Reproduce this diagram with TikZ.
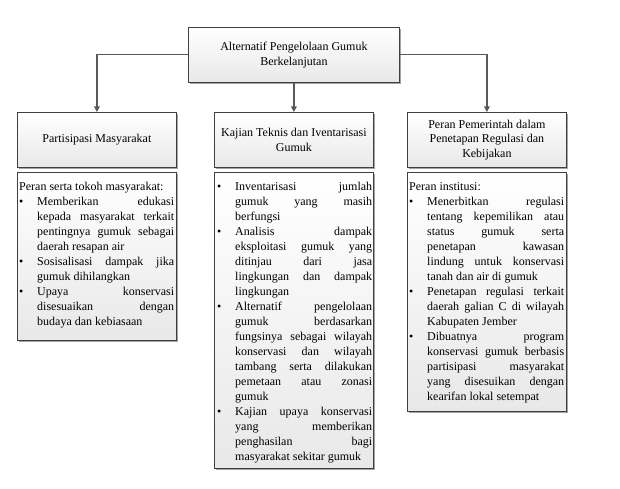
\documentclass[tikz,border=0pt]{standalone}
\usepackage{fontspec}
\setmainfont{Liberation Serif}
\newfontfamily\tnr{Liberation Serif}
\usetikzlibrary{shadows,arrows.meta}
\definecolor{boxc}{HTML}{404040}
\definecolor{linec}{HTML}{595959}
\newlength\bw
\setlength\bw{155pt}
\newcommand\zPL[1]{\hbox to \bw{#1\hfil}}
\newcommand\zBJ[1]{\hbox to \bw{\hbox to 18pt{\textbullet\hfil}#1}}
\newcommand\zBN[1]{\hbox to \bw{\hbox to 18pt{\textbullet\hfil}#1\hfil}}
\newcommand\zIJ[1]{\hbox to \bw{\hskip18pt #1}}
\newcommand\zIN[1]{\hbox to \bw{\hskip18pt #1\hfil}}
\begin{document}
\begin{tikzpicture}[x=1pt,y=-1pt,
  box/.style={draw=boxc, line width=0.8pt, top color=white, bottom color=gray!18,
    drop shadow={shadow xshift=1.2pt, shadow yshift=-1.2pt, fill=black!60, opacity=0.6},
    inner sep=0pt, anchor=north west, minimum width=159pt},
  head/.style={box, minimum height=55pt, align=center, font=\tnr\fontsize{12}{14.5}\selectfont},
  txt/.style={inner sep=0pt, anchor=base west, font=\tnr\fontsize{12}{15}\selectfont},
  conn/.style={draw=linec, line width=1.2pt, -{Triangle[length=5.5pt,width=5.5pt]}}]
\useasboundingbox[fill=white] (0,0) rectangle (620,489);
\node[head, minimum width=211pt] (top) at (188,27) {Alternatif Pengelolaan Gumuk\\Berkelanjutan};
\node[head] (h1) at (17,112) {Partisipasi Masyarakat};
\node[head] (h2) at (214,112) {Kajian Teknis dan Iventarisasi\\Gumuk};
\node[head] (h3) at (407,112) {Peran Pemerintah dalam\\Penetapan Regulasi dan\\Kebijakan};
\draw[conn] (top.west) -| (h1.north);
\draw[conn] (top.south) -- (h2.north);
\draw[conn] (top.east) -| (h3.north);
\node[box, minimum height=168pt] (b1) at (17,172) {};
\node[box, minimum height=296pt] (b2) at (214,172) {};
\node[box, minimum height=239pt] (b3) at (407,172) {};
\node[txt] (t1) at (19,190) {\parbox[t]{\bw}{%
\zPL{Peran serta tokoh masyarakat:}
\zBJ{Memberikan edukasi}
\zIJ{kepada masyarakat terkait}
\zIJ{pentingnya gumuk sebagai}
\zIN{daerah resapan air}
\zBJ{Sosisalisasi dampak jika}
\zIN{gumuk dihilangkan}
\zBJ{Upaya konservasi}
\zIJ{disesuaikan dengan}
\zIN{budaya dan kebiasaan}}};
\node[txt] (t2) at (217,190) {\parbox[t]{\bw}{%
\zBJ{Inventarisasi jumlah}
\zIJ{gumuk yang masih}
\zIN{berfungsi}
\zBJ{Analisis dampak}
\zIJ{eksploitasi gumuk yang}
\zIJ{ditinjau dari jasa}
\zIJ{lingkungan dan dampak}
\zIN{lingkungan}
\zBJ{Alternatif pengelolaan}
\zIJ{gumuk berdasarkan}
\zIJ{fungsinya sebagai wilayah}
\zIJ{konservasi dan wilayah}
\zIJ{tambang serta dilakukan}
\zIJ{pemetaan atau zonasi}
\zIN{gumuk}
\zBJ{Kajian upaya konservasi}
\zIJ{yang memberikan}
\zIJ{penghasilan bagi}
\zIN{masyarakat sekitar gumuk}}};
\node[txt] (t3) at (409,190) {\parbox[t]{\bw}{%
\zPL{Peran institusi:}
\zBJ{Menerbitkan regulasi}
\zIJ{tentang kepemilikan atau}
\zIJ{status gumuk serta}
\zIJ{penetapan kawasan}
\zIJ{lindung untuk konservasi}
\zIN{tanah dan air di gumuk}
\zBJ{Penetapan regulasi terkait}
\zIJ{daerah galian C di wilayah}
\zIN{Kabupaten Jember}
\zBJ{Dibuatnya program}
\zIJ{konservasi gumuk berbasis}
\zIJ{partisipasi masyarakat}
\zIJ{yang disesuikan dengan}
\zIN{kearifan lokal setempat}}};
\end{tikzpicture}
\end{document}
